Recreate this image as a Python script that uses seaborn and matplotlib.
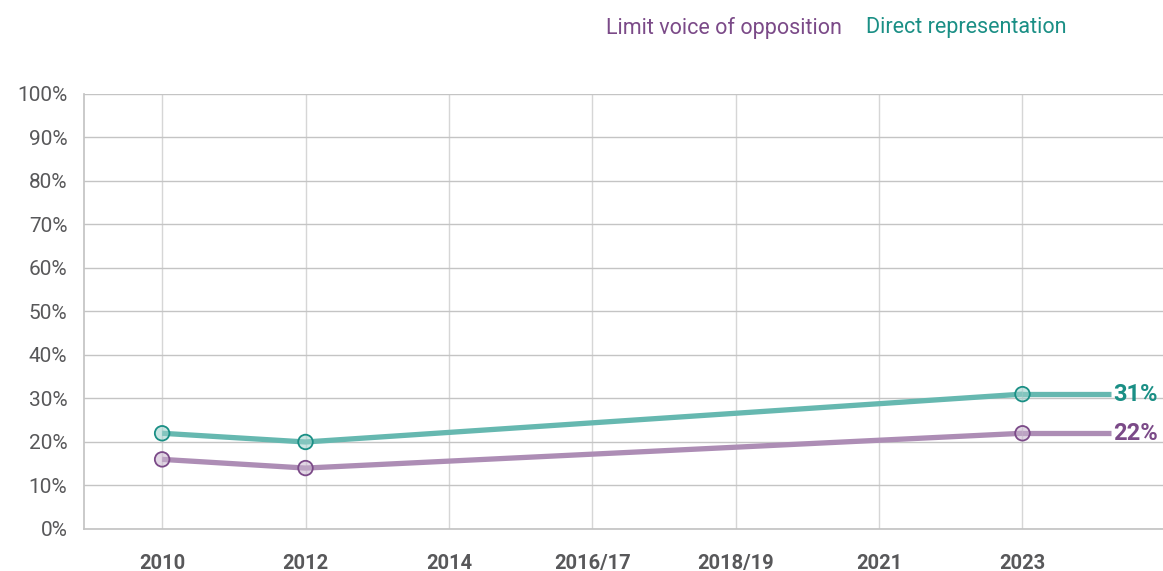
import numpy as np
import pandas as pd
import matplotlib
matplotlib.use("Agg")
import matplotlib.pyplot as plt
import seaborn as sns

# Survey waves shown on the x axis
waves = ["2010", "2012", "2014", "2016/17", "2018/19", "2021", "2023"]

# Waves in which each question was asked, with the share agreeing (%)
asked_waves = ["2010", "2012", "2023"]
limit_opposition = [16, 14, 22]
direct_representation = [22, 20, 31]

series_names = ["Limit voice of opposition", "Direct representation"]
line_colors = {"Limit voice of opposition": "#ad8db5", "Direct representation": "#66b8b0"}
dark_colors = {"Limit voice of opposition": "#7b4a88", "Direct representation": "#1a8f85"}

pos = {w: i for i, w in enumerate(waves)}
df = pd.DataFrame({
    "wave": asked_waves * 2,
    "x": [pos[w] for w in asked_waves] * 2,
    "value": limit_opposition + direct_representation,
    "series": [series_names[0]] * 3 + [series_names[1]] * 3,
})

sns.set_theme(style="white")
plt.rcParams["font.family"] = ["Roboto", "DejaVu Sans"]

fig = plt.figure(figsize=(11.63, 5.71), dpi=100)
ax = fig.add_axes([0.0722, 0.0736, 0.9278, 0.7618])

sns.lineplot(data=df, x="x", y="value", hue="series", palette=line_colors,
             hue_order=series_names, linewidth=3.8, legend=False, ax=ax,
             zorder=3, solid_capstyle="butt")

# Extend each line past the latest wave to its end label
x_end = 6.62
for name, vals in zip(series_names, [limit_opposition, direct_representation]):
    last = vals[-1]
    ax.plot([pos[asked_waves[-1]], x_end], [last, last], color=line_colors[name],
            linewidth=3.8, zorder=3, solid_capstyle="butt")
    sub = df[df["series"] == name]
    ax.scatter(sub["x"], sub["value"], s=110, facecolor="#ffffff",
               edgecolor="none", alpha=0.3, zorder=4)
    ax.scatter(sub["x"], sub["value"], s=110, facecolor=line_colors[name],
               edgecolor="none", alpha=0.35, zorder=4.5)
    ax.scatter(sub["x"], sub["value"], s=110, facecolor="none",
               edgecolor=dark_colors[name], linewidth=1.3, zorder=5)
    ax.text(x_end + 0.015, last, f"{last}%", color=dark_colors[name],
            fontsize=17, fontweight="bold", va="center", ha="left", zorder=6)

ax.set_xlim(-0.545, 6.98)
ax.set_ylim(0, 100)
ax.set_xticks(range(len(waves)))
ax.set_xticklabels(waves, fontsize=14.5, fontweight="bold", color="#58585a")
ax.set_yticks(range(0, 101, 10))
ax.set_yticklabels([f"{v}%" for v in range(0, 101, 10)], fontsize=15, color="#58585a")
ax.tick_params(axis="x", length=0, pad=18)
ax.tick_params(axis="y", length=0, pad=12)
ax.set_xlabel("")
ax.set_ylabel("")

ax.grid(axis="y", color="#c4c4c4", linewidth=1.0)
ax.grid(axis="x", color="#d6d6d6", linewidth=1.0)
ax.set_axisbelow(True)
for side in ["top", "right"]:
    ax.spines[side].set_visible(False)
ax.spines["left"].set_color("#c4c4c4")
ax.spines["bottom"].set_color("#c4c4c4")

# Legend as coloured text
fig.text(606 / 1163, 1 - 28 / 571, series_names[0], color=dark_colors[series_names[0]],
         fontsize=15.5, va="center", ha="left")
fig.text(866 / 1163, 1 - 28 / 571, series_names[1], color=dark_colors[series_names[1]],
         fontsize=15.5, va="center", ha="left")

fig.savefig("out.png", dpi=100)
